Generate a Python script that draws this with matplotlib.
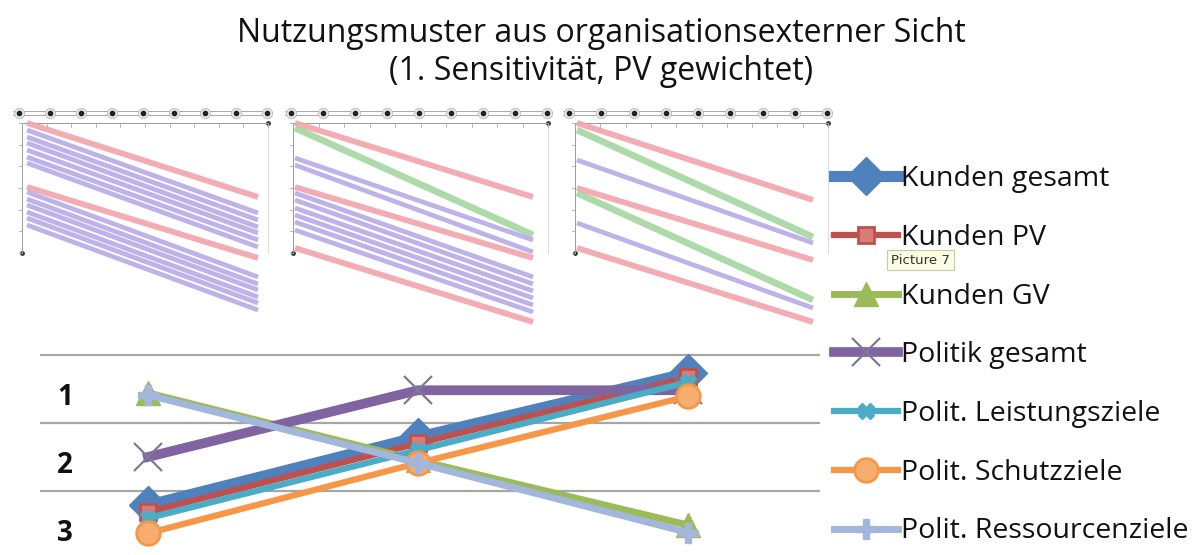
import numpy as np
import matplotlib
matplotlib.use("Agg")
import matplotlib.pyplot as plt

plt.rcParams['font.family'] = ['Open Sans', 'DejaVu Sans']

W, H = 1201, 555

# ---------------- data ----------------
title_lines = ["Nutzungsmuster aus organisationsexterner Sicht", "(1. Sensitivität, PV gewichtet)"]
rank_labels = ["1", "2", "3"]
rank_values = [1, 2, 3]
x_positions = [0, 1, 2]

series_names = ["Kunden gesamt", "Kunden PV", "Kunden GV", "Politik gesamt",
                "Polit. Leistungsziele", "Polit. Schutzziele", "Polit. Ressourcenziele"]
kunden_gesamt = [2.59, 1.59, 0.65]
kunden_pv = [2.69, 1.68, 0.71]
kunden_gv = [0.94, 1.93, 2.88]
politik_gesamt = [1.88, 0.90, 0.90]
polit_leistung = [2.78, 1.78, 0.78]
polit_schutz = [3.00, 1.97, 0.99]
polit_ressourcen = [0.97, 1.97, 2.99]
gridline_values = [0.38, 1.38, 2.38]

# mini-picture panels (levels at left end / right end, on the picture's own scale)
p1_start = [10, 17, 24, 30, 37, 44, 50, 74, 79, 86, 92, 99, 105, 112]
p1_end = [84, 100, 107, 114, 120, 127, 134, 145, 164, 171, 177, 184, 190, 197]
p1_kind = ["r", "p", "p", "p", "p", "p", "p", "r", "p", "p", "p", "p", "p", "p"]

p2_start = [10, 15, 45, 52, 74, 80, 87, 95, 102, 109, 117, 135]
p2_end = [84, 122, 127, 139, 145, 164, 171, 178, 185, 192, 199, 209]
p2_kind = ["r", "g", "p", "p", "r", "p", "p", "p", "p", "p", "p", "r"]

p3_start = [10, 17, 47, 75, 80, 110, 135]
p3_end = [87, 124, 130, 147, 187, 195, 209]
p3_kind = ["r", "g", "p", "r", "g", "p", "r"]

# ---------------- figure ----------------
fig = plt.figure(figsize=(W / 100, H / 100), dpi=100)
fig.patch.set_facecolor("white")


def fx(px):
    return px / W


def fy(py):
    return 1 - py / H


fig.text(fx(601), fy(33), title_lines[0], ha="center", va="center", fontsize=23, color="#111111")
fig.text(fx(601), fy(71), title_lines[1], ha="center", va="center", fontsize=23, color="#111111")

# ---------------- mini pictures ----------------
kind_style = {"r": ("#F3A3AB", 4.2), "p": ("#B6AAE8", 3.4), "g": ("#A3D6A0", 4.8)}


def draw_panel(left, right, line_x0, line_x1, starts, ends, kinds, axis_x):
    top, bottom = 100, 335
    ax = fig.add_axes([fx(left), fy(bottom), fx(right - left), (bottom - top) / H])
    ax.set_xlim(left, right)
    ax.set_ylim(bottom - 113, top - 113)
    ax.axis("off")
    ax.plot([left + 3, right - 3], [-2, -2], color="#9a9a9a", lw=0.6)
    ax.plot([left + 3, right - 3], [2, 2], color="#9a9a9a", lw=0.6)
    cx = np.linspace(left + 9, right - 5, 9)
    ax.scatter(cx, np.zeros_like(cx), s=55, facecolor="#e6e6e6", edgecolor="#bbbbbb", lw=0.6, zorder=3)
    ax.scatter(cx, np.zeros_like(cx), s=9, color="#222222", zorder=4)
    ax.plot([axis_x, right - 4], [10, 10], color="#999999", lw=0.7)
    ax.plot([axis_x, axis_x], [10, 140], color="#999999", lw=0.7)
    ax.plot([right - 4, right - 4], [10, 140], color="#dddddd", lw=0.7)
    for t in np.linspace(10, 140, 7):
        ax.plot([axis_x - 3, axis_x], [t, t], color="#aaaaaa", lw=0.6)
    for t in np.linspace(axis_x, right - 4, 11):
        ax.plot([t, t], [10, 14], color="#aaaaaa", lw=0.6)
    ax.scatter([axis_x], [140], s=6, color="#333333")
    ax.scatter([right - 4], [10], s=6, color="#333333")
    for s, e, k in zip(starts, ends, kinds):
        c, lw = kind_style[k]
        ax.plot([line_x0, line_x1], [s, e], color=c, lw=lw, solid_capstyle="butt", alpha=0.9)


draw_panel(10, 272, 27, 258, p1_start, p1_end, p1_kind, 22)
draw_panel(282, 552, 295, 533, p2_start, p2_end, p2_kind, 293)
draw_panel(560, 832, 577, 813, p3_start, p3_end, p3_kind, 575)

# ---------------- main line chart ----------------
ax = fig.add_axes([fx(40), 0, fx(780), 215 / H])
ax.set_xlim(-0.4, 2.489)
ax.set_ylim(3.32, 0.162)
ax.axis("off")
for g in gridline_values:
    ax.axhline(g, color="#A6A6A6", lw=1.6, zorder=0)

styles = [
    dict(color="#4F81BD", lw=8, marker="D", ms=19, mfc="#4F81BD", mec="#4F81BD", mew=1),
    dict(color="#C0504D", lw=4.5, marker="s", ms=12, mfc="#D77C79", mec="#C0504D", mew=2),
    dict(color="#9BBB59", lw=5, marker="^", ms=17, mfc="#9BBB59", mec="#9BBB59", mew=1),
    dict(color="#8064A2", lw=7, marker="x", ms=20, mfc="none", mec="#7E7898", mew=1.6),
    dict(color="#4BACC6", lw=4.5, marker="X", ms=12, mfc="#4BACC6", mec="#4BACC6", mew=1),
    dict(color="#F79646", lw=4.5, marker="o", ms=17, mfc="#F6AE6E", mec="#F79646", mew=2),
    dict(color="#A3B7DC", lw=5, marker="P", ms=14, mfc="#A3B7DC", mec="#A3B7DC", mew=1),
]
all_series = [kunden_gesamt, kunden_pv, kunden_gv, politik_gesamt,
              polit_leistung, polit_schutz, polit_ressourcen]
handles = []
for i, (vals, st, name) in enumerate(zip(all_series, styles, series_names)):
    ln, = ax.plot(x_positions, vals, label=name, clip_on=False, zorder=2 + i,
                  solid_joinstyle="round", **st)
    handles.append(ln)

trans = matplotlib.transforms.blended_transform_factory(ax.transAxes, ax.transData)
for v, lab in zip(rank_values, rank_labels):
    ax.text(0.032, v, lab, transform=trans, ha="center", va="center",
            fontsize=20, fontweight="bold", color="#111111")

leg = fig.legend(handles, series_names, loc="upper left",
                 bbox_to_anchor=(fx(834), fy(165)), frameon=False, fontsize=20.5,
                 handlelength=2.25, handletextpad=0.12, labelspacing=1.08,
                 borderpad=0, borderaxespad=0)
for t in leg.get_texts():
    t.set_color("#111111")

fig.text(fx(891), fy(260), "Picture 7", ha="left", va="center", fontsize=9.5,
         color="#333333", family=["DejaVu Sans"], zorder=10,
         bbox=dict(boxstyle="square,pad=0.3", facecolor="#FDFDE3", edgecolor="#C8C8B0", lw=0.8))

fig.savefig("out.png", dpi=100, facecolor="white")
